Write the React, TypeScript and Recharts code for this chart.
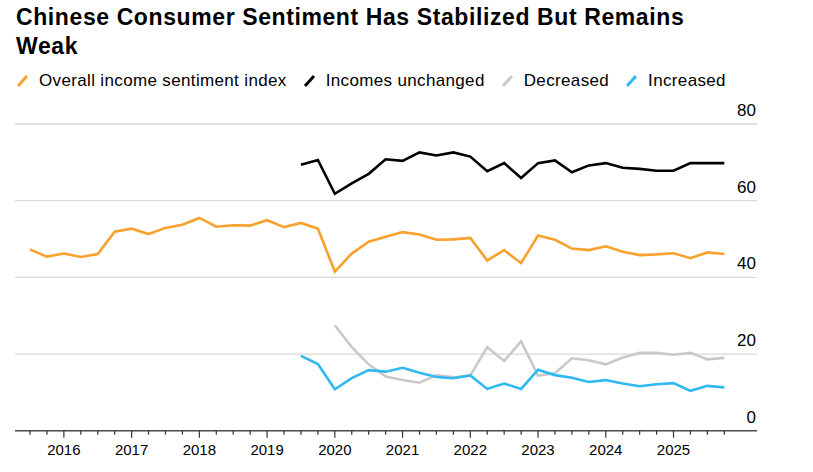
import React from 'react';
import { LineChart, Line, XAxis, YAxis, CartesianGrid } from 'recharts';

const quarters = [
  '2015Q3', '2015Q4',
  '2016Q1', '2016Q2', '2016Q3', '2016Q4',
  '2017Q1', '2017Q2', '2017Q3', '2017Q4',
  '2018Q1', '2018Q2', '2018Q3', '2018Q4',
  '2019Q1', '2019Q2', '2019Q3', '2019Q4',
  '2020Q1', '2020Q2', '2020Q3', '2020Q4',
  '2021Q1', '2021Q2', '2021Q3', '2021Q4',
  '2022Q1', '2022Q2', '2022Q3', '2022Q4',
  '2023Q1', '2023Q2', '2023Q3', '2023Q4',
  '2024Q1', '2024Q2', '2024Q3', '2024Q4',
  '2025Q1', '2025Q2', '2025Q3', '2025Q4',
];

const overall = [
  47.3, 45.4, 46.2, 45.3, 46.1, 51.9, 52.7, 51.3, 52.9, 53.7, 55.5, 53.2, 53.6, 53.5,
  54.9, 53.1, 54.2, 52.7, 41.5, 46.2, 49.3, 50.6, 51.8, 51.2, 49.8, 49.9, 50.3, 44.4,
  47.1, 43.7, 50.9, 49.8, 47.5, 47.1, 48.1, 46.7, 45.8, 46.0, 46.3, 45.0, 46.5, 46.1,
];

const unchanged = [
  null, null, null, null, null, null, null, null, null, null, null, null, null, null,
  null, null, 69.4, 70.6, 61.8, 64.5, 67.0, 70.8, 70.4, 72.6, 71.8, 72.6, 71.5, 67.7,
  69.8, 65.9, 69.8, 70.5, 67.4, 69.2, 69.8, 68.6, 68.3, 67.8, 67.8, 69.8, 69.8, 69.8,
];

const decreased = [
  null, null, null, null, null, null, null, null, null, null, null, null, null, null,
  null, null, null, null, 27.5, 21.8, 17.3, 14.1, 13.2, 12.5, 14.5, 13.9, 14.4, 21.8,
  18.2, 23.3, 14.4, 15.0, 18.9, 18.4, 17.3, 19.1, 20.3, 20.3, 19.8, 20.3, 18.6, 19.0,
];

const increased = [
  null, null, null, null, null, null, null, null, null, null, null, null, null, null,
  null, null, 19.5, 17.4, 10.8, 13.7, 15.8, 15.4, 16.4, 15.1, 14.0, 13.7, 14.4, 10.9,
  12.3, 10.9, 15.9, 14.5, 13.8, 12.7, 13.2, 12.3, 11.6, 12.1, 12.4, 10.4, 11.7, 11.3,
];

const yTicks = [0, 20, 40, 60, 80];

const series = [
  { key: 'overall', name: 'Overall income sentiment index', color: '#f9a12e' },
  { key: 'unchanged', name: 'Incomes unchanged', color: '#000000' },
  { key: 'decreased', name: 'Decreased', color: '#c9c9c9' },
  { key: 'increased', name: 'Increased', color: '#2fb9f2' },
];

const FONT = '"Liberation Sans", Arial, sans-serif';

const XTick = (props: any) => {
  const { x, y, payload } = props;
  const q = quarters[payload.value];
  const major = q && q.endsWith('Q1');
  return (
    <g>
      <line x1={x} x2={x} y1={y} y2={y + (major ? 7 : 4)} stroke="#333" strokeWidth={1.2} />
      {major && (
        <text x={x} y={y + 24} textAnchor="middle" fontSize={15} fill="#000" fontFamily={FONT}>
          {q.slice(0, 4)}
        </text>
      )}
    </g>
  );
};

const YTick = (props: any) => {
  const { x, y, payload } = props;
  return (
    <text x={x - 1} y={y - 8} textAnchor="end" fontSize={17} fill="#000" fontFamily={FONT}>
      {payload.value}
    </text>
  );
};

export default function App() {
  const data = quarters.map((q, i) => ({
    i,
    q,
    overall: overall[i],
    unchanged: unchanged[i],
    decreased: decreased[i],
    increased: increased[i],
  }));

  return (
    <div
      style={{
        position: 'absolute',
        left: 0,
        top: 0,
        width: 813,
        height: 472,
        background: '#fff',
        fontFamily: FONT,
        overflow: 'hidden',
      }}
    >
      <div style={{ position: 'absolute', left: 0, top: 0 }}>
        <LineChart
          width={813}
          height={472}
          data={data}
          margin={{ top: 124, right: 0, bottom: 0, left: 15 }}
        >
          <CartesianGrid vertical={false} stroke="#d9d9d9" strokeWidth={1.3} />
          <XAxis
            dataKey="i"
            type="number"
            domain={[-0.886, 42.93]}
            allowDataOverflow
            ticks={quarters.map((_, i) => i)}
            interval={0}
            tickSize={0}
            tickMargin={0}
            tickLine={false}
            axisLine={{ stroke: '#4d4d4d', strokeWidth: 1.5 }}
            tick={<XTick />}
            height={41.3}
          />
          <YAxis
            orientation="right"
            width={56}
            domain={[0, 80]}
            ticks={yTicks}
            interval={0}
            tickSize={0}
            tickMargin={0}
            tickLine={false}
            axisLine={false}
            tick={<YTick />}
          />
          {series.map((s) => (
            <Line
              key={s.key}
              dataKey={s.key}
              stroke={s.color}
              strokeWidth={2.6}
              dot={false}
              activeDot={false}
              isAnimationActive={false}
            />
          ))}
        </LineChart>
      </div>

      <div
        style={{
          position: 'absolute',
          left: 16,
          top: 3,
          fontSize: 23,
          fontWeight: 700,
          letterSpacing: 0.6,
          lineHeight: '29px',
          color: '#000',
        }}
      >
        Chinese Consumer Sentiment Has Stabilized But Remains
        <br />
        Weak
      </div>

      <div
        style={{
          position: 'absolute',
          left: 15,
          top: 71,
          height: 20,
          display: 'flex',
          alignItems: 'center',
          gap: 15,
          fontSize: 17,
          letterSpacing: 0.35,
          lineHeight: '20px',
          color: '#000',
        }}
      >
        {series.map((s) => (
          <div key={s.key} style={{ display: 'flex', alignItems: 'center', gap: 10 }}>
            <svg width={14} height={20}>
              <line x1={3} y1={15} x2={12} y2={5} stroke={s.color} strokeWidth={3} />
            </svg>
            <span>{s.name}</span>
          </div>
        ))}
      </div>
    </div>
  );
}
